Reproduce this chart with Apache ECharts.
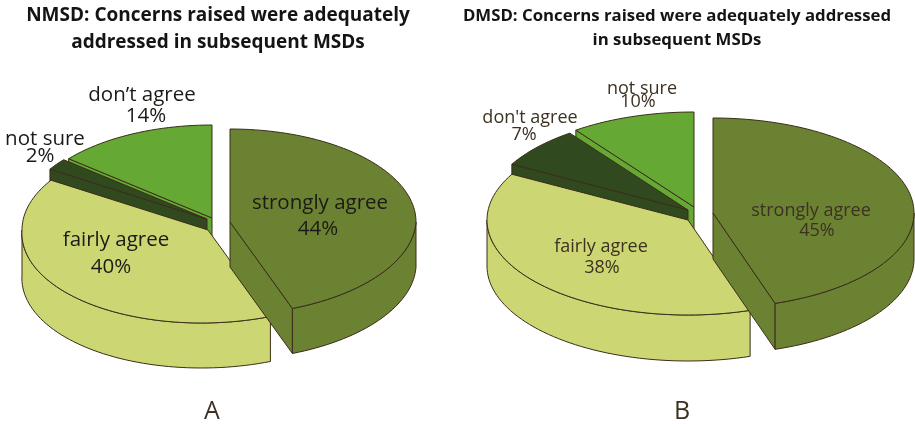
<!DOCTYPE html>
<html><head><meta charset="utf-8">
<style>html,body{margin:0;padding:0;background:#fff}#c{width:915px;height:424px}</style>
<script src="https://cdn.jsdelivr.net/npm/echarts@6/dist/echarts.min.js"></script>
</head><body><div id="c"></div>
<script>
// data
const categoriesA = ['strongly agree', 'fairly agree', 'not sure', "don\u2019t agree"];
const valuesA = [44, 40, 2, 14];
const categoriesB = ['strongly agree', 'fairly agree', "don't agree", 'not sure'];
const valuesB = [45, 38, 7, 10];
const titleA = 'NMSD: Concerns raised were adequately\naddressed in subsequent MSDs';
const titleB = 'DMSD: Concerns raised were adequately addressed\nin subsequent MSDs';
const panelA = 'A';
const panelB = 'B';

// styling per slice, in category order
const GREEN_OLIVE = '#6b8232', GREEN_PALE = '#ccd774', GREEN_DARK = '#30491f', GREEN_BRIGHT = '#66a834';
const EDGE = '#3b2d1a';
const layoutA = {
  rx: 186, ry: 93, depth: 45, frontShear: 0.07,
  apex: [[230, 222], [208, 230], [207, 219], [212, 218]],
  colors: [GREEN_OLIVE, GREEN_PALE, GREEN_DARK, GREEN_BRIGHT],
  order: [3, 2, 1, 0],
  labelPos: [[320, 203, 318, 229], [116, 240, 111, 267], [45, 139, 40, 156], [142, 95, 146, 116]],
  fontSize: 20.5, textColor: '#1c1a16'
};
const layoutB = {
  rx: 201, ry: 95, depth: 46, frontShear: 0,
  apex: [[713, 213], [688, 220], [688, 210], [694, 207]],
  colors: [GREEN_OLIVE, GREEN_PALE, GREEN_DARK, GREEN_BRIGHT],
  order: [3, 2, 1, 0],
  labelPos: [[811, 211, 817, 231], [601, 247, 602, 268], [530, 118, 524, 135], [642, 89, 638, 102]],
  fontSize: 18, textColor: '#3d3122'
};

const FONT = '"Open Sans", sans-serif';

function makeSeries(categories, values, L) {
  const total = values.reduce((a, b) => a + b, 0);
  const spans = [];
  let acc = 0;
  values.forEach(v => { const s = v / total * 360; spans.push([acc, acc + s]); acc += s; });

  return {
    type: 'custom',
    coordinateSystem: 'none',
    silent: true,
    animation: false,
    clip: false,
    data: values.map((v, i) => ({ name: categories[i], value: v })),
    renderItem: function (params) {
      const i = params.dataIndex;
      const [cx, cy] = L.apex[i];
      const [a0, a1] = spans[i];
      const base = 10 + L.order.indexOf(i) * 10;
      const pt = (deg, dz) => {
        const t = deg * Math.PI / 180;
        const dy = -L.ry * Math.cos(t);
        const shear = dy > 0 ? -L.frontShear * dy : 0;
        return [cx + L.rx * Math.sin(t) + shear, cy + dy + (dz || 0)];
      };
      const arc = (from, to, dz) => {
        const n = Math.max(2, Math.ceil((to - from) / 2));
        const out = [];
        for (let k = 0; k <= n; k++) out.push(pt(from + (to - from) * k / n, dz));
        return out;
      };
      const stroke = { stroke: EDGE, lineWidth: 1, lineJoin: 'round' };
      const poly = (points, z2) => ({
        type: 'polygon', z2, shape: { points },
        style: Object.assign({ fill: L.colors[i] }, stroke)
      });
      const children = [];
      // radial cut faces, only those turned towards the viewer
      const rad = d => d * Math.PI / 180;
      const faces = [];
      if (-Math.sin(rad(a0)) > 1e-6) faces.push(a0);
      if (Math.sin(rad(a1)) > 1e-6) faces.push(a1);
      faces.forEach(a => {
        children.push(poly([[cx, cy], pt(a), pt(a, L.depth), [cx, cy + L.depth]], base));
      });
      // outer wall: the part of the rim that faces the viewer (90..270 deg)
      const w0 = Math.max(a0, 90), w1 = Math.min(a1, 270);
      if (w1 > w0) {
        children.push(poly(arc(w0, w1, 0).concat(arc(w0, w1, L.depth).reverse()), base + 1));
      }
      // top face
      children.push(poly([[cx, cy]].concat(arc(a0, a1, 0)), base + 2));
      // label
      const lp = L.labelPos[i];
      const txt = (text, x, y) => ({
        type: 'text', x, y, z2: 100,
        style: {
          text, fill: L.textColor, align: 'center', verticalAlign: 'middle',
          font: L.fontSize + 'px ' + FONT
        }
      });
      children.push(txt(categories[i], lp[0], lp[1]));
      children.push(txt(values[i] + '%', lp[2], lp[3]));
      return { type: 'group', children };
    }
  };
}

const chart = echarts.init(document.getElementById('c'), null, { renderer: 'canvas', width: 915, height: 424 });
chart.setOption({
  backgroundColor: '#fff',
  animation: false,
  title: [
    { text: titleA, left: 218, top: 2, padding: 0, textAlign: 'center',
      textStyle: { fontFamily: FONT, fontWeight: 700, fontSize: 19, lineHeight: 27, color: '#141414' } },
    { text: titleB, left: 677, top: 4, padding: 0, textAlign: 'center',
      textStyle: { fontFamily: FONT, fontWeight: 700, fontSize: 16.8, lineHeight: 24, color: '#141414' } },
    { text: panelA, left: 212, top: 399, padding: 0, textAlign: 'center',
      textStyle: { fontFamily: FONT, fontWeight: 400, fontSize: 25, color: '#3d3122' } },
    { text: panelB, left: 682, top: 399, padding: 0, textAlign: 'center',
      textStyle: { fontFamily: FONT, fontWeight: 400, fontSize: 25, color: '#3d3122' } }
  ],
  series: [makeSeries(categoriesA, valuesA, layoutA), makeSeries(categoriesB, valuesB, layoutB)]
});
</script></body></html>
